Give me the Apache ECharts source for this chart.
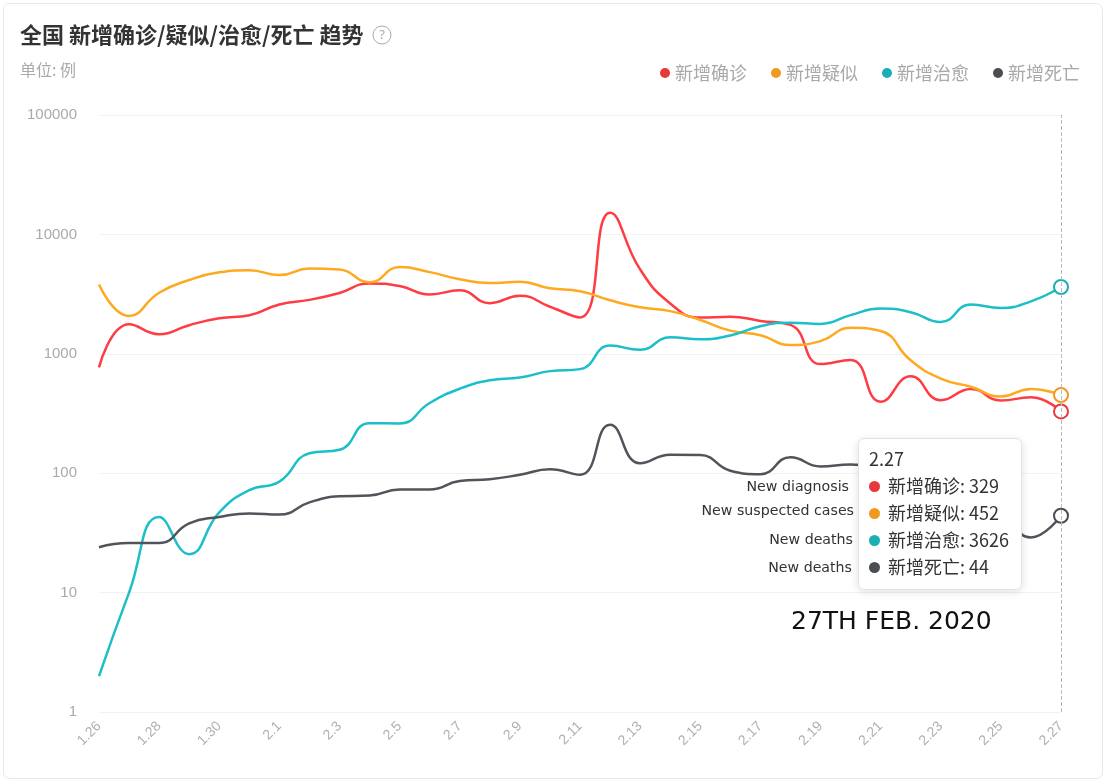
<!DOCTYPE html>
<html>
<head>
<meta charset="utf-8">
<script src="https://cdn.jsdelivr.net/npm/echarts@6/dist/echarts.min.js"></script>
<style>
html,body{margin:0;padding:0;background:#fff;}
#chart{width:1107px;height:784px;}
</style>
</head>
<body>
<div id="chart"></div>
<script>
var dates = ['1.26','1.27','1.28','1.29','1.30','1.31','2.1','2.2','2.3','2.4','2.5','2.6','2.7','2.8','2.9','2.10','2.11','2.12','2.13','2.14','2.15','2.16','2.17','2.18','2.19','2.20','2.21','2.22','2.23','2.24','2.25','2.26','2.27'];
var confirmed = [769,1771,1459,1737,1982,2102,2590,2829,3235,3887,3694,3143,3399,2656,3062,2478,2015,15152,5090,2641,2009,2048,1886,1749,820,889,397,648,409,508,406,433,329];
var suspected = [3806,2077,3248,4148,4812,5019,4562,5173,5072,3971,5328,4833,4214,3916,4008,3536,3342,2807,2450,2277,1918,1563,1432,1185,1277,1650,1550,882,620,530,439,508,452];
var cured = [2,10,43,21,47,72,85,147,157,262,261,387,510,600,632,716,744,1171,1081,1373,1323,1425,1701,1824,1779,2109,2393,2230,1846,2589,2422,2750,3626];
var deaths = [24,26,26,38,43,46,45,57,64,65,73,73,86,89,97,108,97,254,121,143,142,105,98,136,114,118,109,97,150,71,52,29,44];
var seriesNames = ['新增确诊','新增疑似','新增治愈','新增死亡'];
var colors = ['#e6383d','#ef9a1e','#1aaeb5','#4a4d52'];
var yTicks = ['1','10','100','1000','10000','100000'];
var annotations = ['New diagnosis','New suspected cases','New deaths','New deaths'];
var dateNote = '27TH FEB. 2020';

var chart = echarts.init(document.getElementById('chart'));
var allData = [confirmed, suspected, cured, deaths];
var series = allData.map(function(d, i){
  return {
    name: seriesNames[i], type: 'line', data: d, smooth: true,
    showSymbol: false, symbol: 'emptyCircle', symbolSize: 14,
    lineStyle: {width: 2.5, color: colors[i]},
    itemStyle: {color: colors[i], borderWidth: 2},
    emphasis: {scale: 1, lineStyle:{width:2.5}}
  };
});
var annotY = [487, 511, 540, 568];
var annotX = [849, 854, 853, 852];
var graphics = [
  {type:'rect', z:-10, shape:{x:3.5,y:3.5,width:1099,height:775,r:6}, style:{fill:'#fff', stroke:'#e8e8e8', lineWidth:1}},
  {type:'circle', shape:{cx:382, cy:35, r:9}, style:{fill:'none', stroke:'#aaa', lineWidth:1}},
  {type:'text', x:382, y:35, style:{text:'?', fill:'#aaa', font:'13px "Noto Sans"', align:'center', verticalAlign:'middle'}},
  {type:'text', x:791, y:622, style:{text:dateNote, fill:'#111', font:'25px "DejaVu Sans"', align:'left', verticalAlign:'middle'}}
];
annotations.forEach(function(t, i){
  graphics.push({type:'text', x:annotX[i], y:annotY[i], style:{text:t, fill:'#333', font:'14.2px "DejaVu Sans"', align:'right', verticalAlign:'middle'}});
});

var option = {
  backgroundColor: 'transparent',
  animation: false,
  color: colors,
  title: {
    text: '全国 新增确诊/疑似/治愈/死亡 趋势',
    subtext: '单位: 例',
    left: 15, top: 19, itemGap: 16,
    textStyle: {fontSize: 22, fontWeight: 'bold', color: '#333', fontFamily: '"Noto Sans CJK SC"'},
    subtextStyle: {fontSize: 16, color: '#aaa', fontFamily: '"Noto Sans CJK SC"'}
  },
  legend: {
    data: seriesNames, right: 22, top: 59, icon: 'circle',
    itemWidth: 10, itemHeight: 10, itemGap: 24,
    textStyle: {fontSize: 18, color: '#a8a8a8', fontFamily: '"Noto Sans CJK SC"'}
  },
  grid: {left: 99, right: 46, top: 115, bottom: 72, containLabel: false},
  tooltip: {
    trigger: 'axis', alwaysShowContent: true,
    position: [858, 438],
    backgroundColor: '#fff', borderColor: '#e2e2e2', borderWidth: 1, borderRadius: 6,
    padding: [6, 12, 9, 10],
    extraCssText: 'box-shadow:0 2px 8px rgba(0,0,0,0.12);',
    axisPointer: {type: 'line', lineStyle: {color: '#bbb', type: 'dashed', width: 1}},
    formatter: function(params){
      var s = '<div style="font-family:\'Noto Sans CJK SC\';font-size:18px;color:#333;line-height:27px;">' + params[0].axisValue;
      params.forEach(function(p){
        s += '<br/><span style="display:inline-block;width:11px;height:11px;border-radius:50%;background:' + p.color + ';margin-right:8px;vertical-align:1px;"></span>' + p.seriesName + ': ' + p.value;
      });
      return s + '</div>';
    }
  },
  xAxis: {
    type: 'category', data: dates, boundaryGap: false,
    axisLine: {show: false}, axisTick: {show: false},
    axisLabel: {interval: 1, rotate: 45, color: '#b0b0b0', fontSize: 14, margin: 12},
    splitLine: {show: false}
  },
  yAxis: {
    type: 'log', logBase: 10, min: 1, max: 100000,
    axisLine: {show: false}, axisTick: {show: false},
    axisLabel: {color: '#aaa', fontSize: 15, margin: 22, formatter: function(v){ var i = Math.round(Math.log10(v)); return yTicks[i] !== undefined ? yTicks[i] : ''; }},
    splitLine: {lineStyle: {color: '#f2f2f2'}}
  },
  graphic: graphics,
  series: series
};
chart.setOption(option);
chart.dispatchAction({type: 'showTip', seriesIndex: 0, dataIndex: dates.length - 1});
</script>
</body>
</html>
